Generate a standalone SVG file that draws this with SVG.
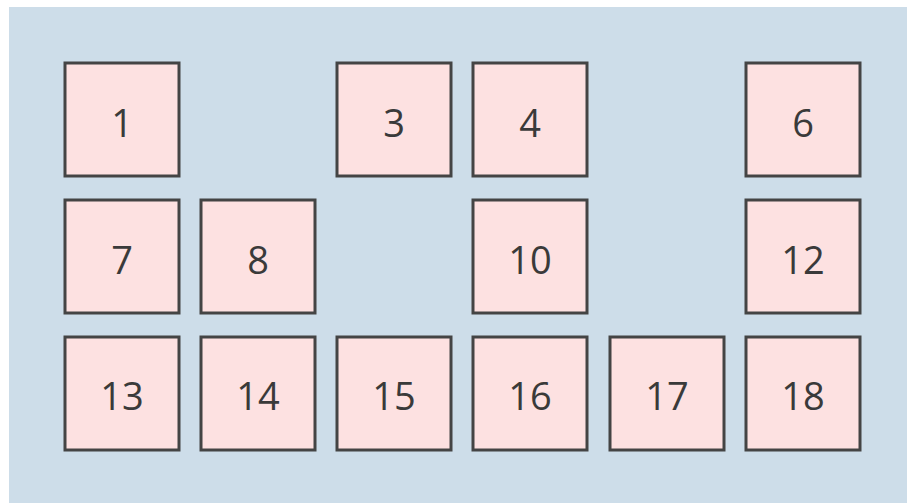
<svg xmlns="http://www.w3.org/2000/svg" width="907" height="503" viewBox="0 0 907 503">
<style>
.box rect{fill:#fde1e1;stroke:#444444;stroke-width:3}
.box text{font-family:"Open Sans","Noto Sans",sans-serif;font-size:38px;fill:#3a3a3a;text-anchor:middle}
</style>
<rect width="907" height="503" fill="#ffffff"/>
<rect x="9" y="7" width="898" height="496" fill="#cddde9"/>
<g id="node1" class="box"><rect x="65" y="63" width="114" height="113"/><text x="122" y="137">1</text></g>
<g id="node3" class="box"><rect x="337" y="63" width="114" height="113"/><text x="394" y="137">3</text></g>
<g id="node4" class="box"><rect x="473" y="63" width="114" height="113"/><text x="530" y="137">4</text></g>
<g id="node6" class="box"><rect x="746" y="63" width="114" height="113"/><text x="803" y="137">6</text></g>
<g id="node7" class="box"><rect x="65" y="200" width="114" height="113"/><text x="122" y="274">7</text></g>
<g id="node8" class="box"><rect x="201" y="200" width="114" height="113"/><text x="258" y="274">8</text></g>
<g id="node10" class="box"><rect x="473" y="200" width="114" height="113"/><text x="530" y="274">10</text></g>
<g id="node12" class="box"><rect x="746" y="200" width="114" height="113"/><text x="803" y="274">12</text></g>
<g id="node13" class="box"><rect x="65" y="337" width="114" height="113"/><text x="122" y="410">13</text></g>
<g id="node14" class="box"><rect x="201" y="337" width="114" height="113"/><text x="258" y="410">14</text></g>
<g id="node15" class="box"><rect x="337" y="337" width="114" height="113"/><text x="394" y="410">15</text></g>
<g id="node16" class="box"><rect x="473" y="337" width="114" height="113"/><text x="530" y="410">16</text></g>
<g id="node17" class="box"><rect x="610" y="337" width="114" height="113"/><text x="667" y="410">17</text></g>
<g id="node18" class="box"><rect x="746" y="337" width="114" height="113"/><text x="803" y="410">18</text></g>
<g id="connectors"></g>
</svg>
